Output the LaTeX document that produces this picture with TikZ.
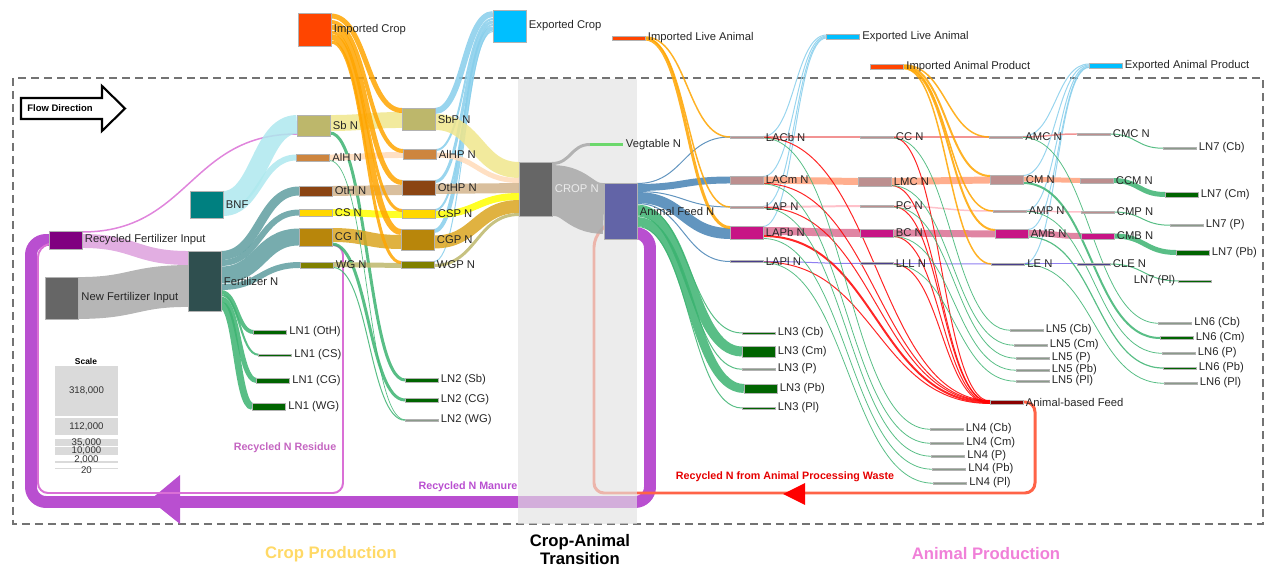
\documentclass[tikz,border=0pt]{standalone}
\usepackage{fontspec}
\setmainfont{Liberation Sans}
\usetikzlibrary{calc}

\pgfdeclarelayer{back}
\pgfdeclarelayer{shade}
\pgfdeclarelayer{links}
\pgfsetlayers{back,shade,links,main}

% node colours
\definecolor{cRecFert}{HTML}{800080}
\definecolor{cNewFert}{HTML}{666666}
\definecolor{cBNF}{HTML}{008080}
\definecolor{cFert}{HTML}{2F4F4F}
\definecolor{cSb}{HTML}{BDB76B}
\definecolor{cAlH}{HTML}{CD853F}
\definecolor{cOtH}{HTML}{8B4513}
\definecolor{cCS}{HTML}{FFD700}
\definecolor{cCG}{HTML}{B8860B}
\definecolor{cWG}{HTML}{808000}
\definecolor{cImp}{HTML}{FF4500}
\definecolor{cExp}{HTML}{00BFFF}
\definecolor{cAFN}{HTML}{6264A7}
\definecolor{cVeg}{HTML}{6CD86C}
\definecolor{cRosy}{HTML}{BC8F8F}
\definecolor{cMVR}{HTML}{C71585}
\definecolor{cDSlate}{HTML}{483D8B}
\definecolor{cLNd}{HTML}{006400}
\definecolor{cLNg}{HTML}{8A9A8A}
\definecolor{cABF}{HTML}{8B0000}
% link colours
\definecolor{plumb}{HTML}{DDA0DD}
\definecolor{grayL}{HTML}{A9A9A9}
\definecolor{cadet}{HTML}{5F9EA0}
\definecolor{seag}{HTML}{3CB371}
\definecolor{paleT}{HTML}{AEE8EE}
\definecolor{khakiL}{HTML}{F0E68C}
\definecolor{peachL}{HTML}{FFDAB9}
\definecolor{tanL}{HTML}{D2B48C}
\definecolor{yellowL}{HTML}{FFFF00}
\definecolor{goldL}{HTML}{DAA520}
\definecolor{dkhakiL}{HTML}{BDB76B}
\definecolor{orangeL}{HTML}{FFA500}
\definecolor{skyL}{HTML}{87CEEB}
\definecolor{steelL}{HTML}{4682B4}
\definecolor{coralL}{HTML}{F08080}
\definecolor{salmonL}{HTML}{FFA07A}
\definecolor{pinkL}{HTML}{FFB6C1}
\definecolor{pvredL}{HTML}{DB7093}
\definecolor{mslateL}{HTML}{7B68EE}
\definecolor{redL}{HTML}{FF0000}
\definecolor{orchidL}{HTML}{DA70D6}
\definecolor{cManure}{HTML}{B94FD0}
\definecolor{cWaste}{HTML}{FF6347}
\definecolor{bandgray}{HTML}{E2E2E2}
\definecolor{scalegray}{HTML}{DADADA}
\definecolor{cCropReg}{HTML}{FFD966}
\definecolor{cAnimReg}{HTML}{F080D8}

\newlength\pxw
\setlength\pxw{0.5669pt}

% sankey link: [colour]{from}{offset}{to}{offset}{width}, offsets in px below the top
\newcommand{\lnk}[6][]{%
  \draw[band,#1,line width=#6*\pxw]
    let \p1=($(#2.north east)+(0,#3)$), \p2=($(#4.north west)+(0,#5)$) in
    (\p1) .. controls ({0.5*\x1+0.5*\x2},\y1) and ({0.5*\x1+0.5*\x2},\y2) .. (\p2);}

\begin{document}
\begin{tikzpicture}[x=0.02cm, y=-0.02cm,
    bar/.style={rectangle, inner sep=0pt, outer sep=0pt, minimum width=0.66cm, minimum height=#1*0.02cm, draw=black!30, line width=0.2pt},
    bar/.default=2,
    lbl/.style={font=\fontsize{6.4}{7.5}\selectfont, text=black!85, inner sep=1.5pt},
    band/.style={line cap=butt, opacity=0.85},
    note/.style={font=\bfseries\fontsize{6.1}{7}\selectfont, inner sep=0pt},
    region/.style={font=\bfseries\fontsize{9.5}{10.4}\selectfont, align=center, inner sep=0pt},
    sc/.style={rectangle, fill=scalegray, minimum width=1.26cm, inner sep=0pt, font=\fontsize{5.5}{6}\selectfont, text=black!80}
]
\useasboundingbox (0,0) rectangle (1265,567);

% fertilizer inputs
\node[bar=18, fill=cRecFert, label={[lbl]right:Recycled Fertilizer Input}] (rfi) at (65.5,240) {};
\node[bar=42, fill=cNewFert, label={[lbl]right:New Fertilizer Input}] (nfi) at (62,298) {};
\node[bar=27, fill=cBNF, label={[lbl]right:BNF}] (bnf) at (206.5,204.5) {};
\node[bar=60, fill=cFert, label={[lbl]right:Fertilizer N}] (fert) at (204.5,281) {};

% crops
\node[bar=21, fill=cSb, label={[lbl]right:Sb N}] (sb) at (313.5,125.5) {};
\node[bar=7, fill=cAlH, label={[lbl]right:AlH N}] (alh) at (313,157.5) {};
\node[bar=10, fill=cOtH, label={[lbl]right:OtH N}] (oth) at (315.5,191) {};
\node[bar=7, fill=cCS, label={[lbl]right:CS N}] (cs) at (315.5,212.5) {};
\node[bar=18, fill=cCG, label={[lbl]right:CG N}] (cg) at (315.5,237) {};
\node[bar=6, fill=cWG, label={[lbl]right:WG N}] (wg) at (316.5,265) {};

% processed crops
\node[bar=22, fill=cSb, label={[lbl]right:SbP N}] (sbp) at (418.5,119) {};
\node[bar=10, fill=cAlH, label={[lbl]right:AlHP N}] (alhp) at (419.5,154) {};
\node[bar=15, fill=cOtH, label={[lbl]right:OtHP N}] (othp) at (418.5,187.5) {};
\node[bar=9, fill=cCS, label={[lbl]right:CSP N}] (csp) at (418.5,213.5) {};
\node[bar=21, fill=cCG, label={[lbl]right:CGP N}] (cgp) at (417.5,239.5) {};
\node[bar=7, fill=cWG, label={[lbl]right:WGP N}] (wgp) at (417.5,264.5) {};

% trade
\node[bar=33, fill=cImp, label={[lbl]right:Imported Crop}] (impcrop) at (314.5,29.5) {};
\node[bar=32, fill=cExp, label={[lbl]right:Exported Crop}] (expcrop) at (509.5,26) {};
\node[bar=4, fill=cImp, label={[lbl]right:Imported Live Animal}] (impla) at (628.5,38) {};
\node[bar=5, fill=cExp, label={[lbl]right:Exported Live Animal}] (expla) at (843,36.5) {};
\node[bar=5, fill=cImp, label={[lbl]right:Imported Animal Product}] (impap) at (887,66.5) {};
\node[bar=5, fill=cExp, label={[lbl]right:Exported Animal Product}] (expap) at (1105.5,65.5) {};

% transition
\node[bar=54, fill=cNewFert, label={[lbl, text=white!92!black]right:CROP N}] (cropn) at (535.5,189) {};
\node[bar=3, fill=cVeg, draw=none, label={[lbl]right:Vegtable N}] (veg) at (606.5,144.5) {};
\node[bar=56, fill=cAFN, label={[lbl]right:Animal Feed N}] (afn) at (620.5,211) {};

% animal column 1
\node[bar, fill=cRosy, label={[lbl]right:LACb N}] (lacb) at (746.5,137) {};
\node[bar=8, fill=cRosy, label={[lbl]right:LACm N}] (lacm) at (746.5,180) {};
\node[bar, fill=cRosy, label={[lbl]right:LAP N}] (lap) at (746.5,207) {};
\node[bar=13, fill=cMVR, label={[lbl]right:LAPb N}] (lapb) at (746.5,232.5) {};
\node[bar, fill=cDSlate, label={[lbl]right:LAPl N}] (lapl) at (746.5,261.5) {};
% animal column 2
\node[bar, fill=cRosy, label={[lbl]right:CC N}] (cc) at (876.5,137) {};
\node[bar=9, fill=cRosy, label={[lbl]right:LMC N}] (lmc) at (874.5,181.5) {};
\node[bar, fill=cRosy, label={[lbl]right:PC N}] (pc) at (876.5,206) {};
\node[bar=8, fill=cMVR, label={[lbl]right:BC N}] (bc) at (876.5,233) {};
\node[bar, fill=cDSlate, label={[lbl]right:LLL N}] (lll) at (876.5,263.5) {};
% animal column 3
\node[bar, fill=cRosy, label={[lbl]right:AMC N}] (amc) at (1006,137) {};
\node[bar=9, fill=cRosy, label={[lbl]right:CM N}] (cm) at (1006.5,179.5) {};
\node[bar, fill=cRosy, label={[lbl]right:AMP N}] (amp) at (1009.5,211) {};
\node[bar=9, fill=cMVR, label={[lbl]right:AMB N}] (amb) at (1011.5,233.5) {};
\node[bar, fill=cDSlate, label={[lbl]right:LE N}] (le) at (1008,264) {};
% animal column 4
\node[bar, fill=cRosy, label={[lbl]right:CMC N}] (cmc) at (1093.5,134) {};
\node[bar=5, fill=cRosy, label={[lbl]right:CCM N}] (ccm) at (1096.5,180.5) {};
\node[bar, fill=cRosy, label={[lbl]right:CMP N}] (cmp) at (1097.5,212) {};
\node[bar=6, fill=cMVR, label={[lbl]right:CMB N}] (cmb) at (1097.5,236) {};
\node[bar, fill=cDSlate, label={[lbl]right:CLE N}] (cle) at (1093.5,264) {};
\node[bar=4, fill=cABF, label={[lbl]right:Animal-based Feed}] (abf) at (1006.5,402) {};

% losses
\node[bar=4, fill=cLNd, label={[lbl]right:LN1 (OtH)}] (ln1oth) at (270,332) {};
\node[bar=2.5, fill=cLNd, label={[lbl]right:LN1 (CS)}] (ln1cs) at (275,355) {};
\node[bar=5, fill=cLNd, label={[lbl]right:LN1 (CG)}] (ln1cg) at (273,380.5) {};
\node[bar=7, fill=cLNd, label={[lbl]right:LN1 (WG)}] (ln1wg) at (269,406.5) {};
\node[bar=4, fill=cLNd, label={[lbl]right:LN2 (Sb)}] (ln2sb) at (421.5,380) {};
\node[bar=4, fill=cLNd, label={[lbl]right:LN2 (CG)}] (ln2cg) at (421.5,400) {};
\node[bar=1.5, fill=cLNg, label={[lbl]right:LN2 (WG)}] (ln2wg) at (421.5,420) {};
\node[bar=2, fill=cLNd, label={[lbl]right:LN3 (Cb)}] (ln3cb) at (758.5,333) {};
\node[bar=11, fill=cLNd, label={[lbl]right:LN3 (Cm)}] (ln3cm) at (758.5,351.5) {};
\node[bar=1.5, fill=cLNg, label={[lbl]right:LN3 (P)}] (ln3p) at (758.5,369) {};
\node[bar=9, fill=cLNd, label={[lbl]right:LN3 (Pb)}] (ln3pb) at (760.5,388.5) {};
\node[bar=2, fill=cLNd, label={[lbl]right:LN3 (Pl)}] (ln3pl) at (758.5,408) {};
\node[bar=1.5, fill=cLNg, label={[lbl]right:LN4 (Cb)}] (ln4cb) at (946.5,429) {};
\node[bar=1.5, fill=cLNg, label={[lbl]right:LN4 (Cm)}] (ln4cm) at (947,443) {};
\node[bar=1.5, fill=cLNg, label={[lbl]right:LN4 (P)}] (ln4p) at (948,456) {};
\node[bar=1.5, fill=cLNg, label={[lbl]right:LN4 (Pb)}] (ln4pb) at (949,469) {};
\node[bar=1.5, fill=cLNg, label={[lbl]right:LN4 (Pl)}] (ln4pl) at (950,483) {};
\node[bar=1.5, fill=cLNg, label={[lbl]right:LN5 (Cb)}] (ln5cb) at (1026.5,330) {};
\node[bar=1.5, fill=cLNg, label={[lbl]right:LN5 (Cm)}] (ln5cm) at (1030.5,345) {};
\node[bar=1.5, fill=cLNg, label={[lbl]right:LN5 (P)}] (ln5p) at (1032.5,358) {};
\node[bar=1.5, fill=cLNg, label={[lbl]right:LN5 (Pb)}] (ln5pb) at (1032.5,370) {};
\node[bar=1.5, fill=cLNg, label={[lbl]right:LN5 (Pl)}] (ln5pl) at (1032.5,381) {};
\node[bar=1.5, fill=cLNg, label={[lbl]right:LN6 (Cb)}] (ln6cb) at (1175,323) {};
\node[bar=3, fill=cLNd, label={[lbl]right:LN6 (Cm)}] (ln6cm) at (1176.5,338) {};
\node[bar=1.5, fill=cLNg, label={[lbl]right:LN6 (P)}] (ln6p) at (1178.5,353) {};
\node[bar=2, fill=cLNd, label={[lbl]right:LN6 (Pb)}] (ln6pb) at (1179.5,368) {};
\node[bar=1.5, fill=cLNg, label={[lbl]right:LN6 (Pl)}] (ln6pl) at (1180.5,383) {};
\node[bar=1.5, fill=cLNg, label={[lbl]right:LN7 (Cb)}] (ln7cb) at (1179.5,148) {};
\node[bar=5, fill=cLNd, label={[lbl]right:LN7 (Cm)}] (ln7cm) at (1181.5,194.5) {};
\node[bar=1.5, fill=cLNg, label={[lbl]right:LN7 (P)}] (ln7p) at (1186.5,225) {};
\node[bar=5, fill=cLNd, label={[lbl]right:LN7 (Pb)}] (ln7pb) at (1192.5,252.5) {};
\node[bar=2, fill=cLNd, label={[lbl]left:LN7 (Pl)}] (ln7pl) at (1194.5,281) {};

% flow direction arrow
\draw[line width=1.2pt, line join=miter] (21,98) -- (102,98) -- (102,86) -- (125,108.5) -- (102,131) -- (102,119) -- (21,119) -- cycle;
\node[font=\bfseries\fontsize{5.4}{6}\selectfont, inner sep=0pt] (flowdir) at (60,108.5) {Flow Direction};

% scale
\node[font=\bfseries\fontsize{4.8}{5}\selectfont, inner sep=0pt] (scaleT) at (86,361) {Scale};
\node[sc, minimum height=50*0.02cm] (s1) at (86.5,391) {318,000};
\node[sc, minimum height=17*0.02cm] (s2) at (86.5,426.5) {112,000};
\node[sc, minimum height=7*0.02cm] (s3) at (86.5,442.5) {35,000};
\node[sc, minimum height=2*0.02cm] (s4) at (86.5,451) {10,000};
\node[sc, minimum height=1.5*0.02cm] (s5) at (86.5,462) {};
\node[font=\fontsize{5.5}{6}\selectfont, text=black!80, inner sep=0pt] (s5t) at (86.5,460) {2,000};
\node[sc, minimum height=1.5*0.02cm] (s6) at (86.5,468.5) {};
\node[font=\fontsize{5.5}{6}\selectfont, text=black!80, inner sep=0pt] (s6t) at (86.5,470) {20};

% notes
\node[note, text=orchidL!90!black] (residue) at (285,448) {Recycled N Residue};
\node[note, text=cManure] (manure) at (468,487) {Recycled N Manure};
\node[note, text=red!90!black] (waste) at (785,477) {Recycled N from Animal Processing Waste};
\node[region, text=cCropReg] (croplab) at (331,554) {Crop Production};
\node[region] (translab) at (580,549.5) {Crop-Animal\\Transition};
\node[region, text=cAnimReg] (animlab) at (986,554) {Animal Production};

\begin{pgfonlayer}{back}
% frame and recycling loops
\draw[dashed, black!55, line width=1.5*\pxw, dash pattern=on 0.16cm off 0.1cm] (13,78) rectangle (1263,524);
\draw[cManure, line width=12*\pxw, rounded corners=0.3cm] (632,233) -- (650,233) -- (650,502) -- (31,502) -- (31,240) -- (rfi.center);
\fill[cManure] (150,500) -- (180,475) -- (180,524) -- cycle;
\draw[orchidL, line width=2*\pxw, rounded corners=0.2cm] (326,245) -- (343,245) -- (343,493) -- (38,493) -- (38,247) -- (rfi.center);
\draw[cWaste, line width=3*\pxw, rounded corners=0.2cm] (abf.center) -- (1035,402) -- (1035,493) -- (594,493) -- (594,237) -- (afn.center);
\fill[red] (783,494) -- (805,483) -- (805,505) -- cycle;
\end{pgfonlayer}

\begin{pgfonlayer}{shade}
\fill[bandgray, opacity=0.65] (518,79) rectangle (637,524);
\end{pgfonlayer}

\begin{pgfonlayer}{links}
% fertilizer
\lnk[plumb]{rfi}{10}{fert}{7}{14}
\lnk[grayL]{nfi}{21}{fert}{35}{42}
\lnk[orchidL]{rfi}{1}{sb}{19}{1.5}
\lnk[cadet]{fert}{4.5}{oth}{5}{9}
\lnk[cadet]{fert}{12}{cs}{3.5}{6}
\lnk[cadet]{fert}{24}{cg}{9}{17}
\lnk[cadet]{fert}{36}{wg}{3}{6}
\lnk[seag]{fert}{41}{ln1oth}{2}{4}
\lnk[seag]{fert}{44}{ln1cs}{1}{2}
\lnk[seag]{fert}{48}{ln1cg}{2.5}{5}
\lnk[seag]{fert}{54}{ln1wg}{3.5}{7}
\lnk[paleT]{bnf}{9.5}{sb}{9.5}{19}
\lnk[paleT]{bnf}{22}{alh}{3.5}{6}
% crops to processing
\lnk[khakiL]{sb}{8}{sbp}{12}{16}
\lnk[seag]{sb}{18}{ln2sb}{2}{3}
\lnk[peachL]{alh}{3.5}{alhp}{6}{6}
\lnk[tanL]{oth}{5}{othp}{10}{10}
\lnk[yellowL]{cs}{3.5}{csp}{5.5}{7}
\lnk[goldL]{cg}{7}{cgp}{13}{14}
\lnk[seag]{cg}{16}{ln2cg}{2}{3}
\lnk[dkhakiL]{wg}{2.5}{wgp}{4.5}{5}
\lnk[seag]{wg}{5.5}{ln2wg}{1}{1}
\lnk[seag]{alh}{6.5}{ln2wg}{0.5}{0.7}
% imported crop
\lnk[orangeL]{impcrop}{3}{sbp}{2.5}{5}
\lnk[orangeL]{impcrop}{9}{alhp}{2}{4}
\lnk[orangeL]{impcrop}{14}{othp}{2.5}{5}
\lnk[orangeL]{impcrop}{19}{csp}{1.5}{3}
\lnk[orangeL]{impcrop}{24}{cgp}{3}{6}
\lnk[orangeL]{impcrop}{29}{wgp}{1.5}{3}
% exported crop
\lnk[skyL]{sbp}{3}{expcrop}{4}{6}
\lnk[skyL]{alhp}{1}{expcrop}{9}{2}
\lnk[skyL]{othp}{1.5}{expcrop}{12}{3}
\lnk[skyL]{csp}{1}{expcrop}{15}{2}
\lnk[skyL]{cgp}{2}{expcrop}{18.5}{4}
\lnk[skyL]{wgp}{0.5}{expcrop}{21.5}{1}
% processing to CROP N
\lnk[khakiL]{sbp}{14}{cropn}{8}{16}
\lnk[peachL]{alhp}{6}{cropn}{18.5}{5}
\lnk[tanL]{othp}{9}{cropn}{26}{10}
\lnk[yellowL]{csp}{5.5}{cropn}{34.5}{7}
\lnk[goldL]{cgp}{13}{cropn}{44.5}{13}
\lnk[dkhakiL]{wgp}{4.5}{cropn}{52.5}{3}
\lnk[grayL]{cropn}{1.5}{veg}{1.5}{3}
\lnk[grayL]{cropn}{28.5}{afn}{25.5}{51}
% animal feed
\lnk[steelL]{afn}{0.5}{lacb}{1}{1}
\lnk[steelL]{afn}{4.5}{lacm}{4}{7}
\lnk[steelL]{afn}{8.5}{lap}{1}{1}
\lnk[steelL]{afn}{14.5}{lapb}{7.5}{11}
\lnk[steelL]{afn}{20.5}{lapl}{1}{1}
\lnk[seag]{afn}{22}{ln3cb}{1}{1}
\lnk[seag]{afn}{27.5}{ln3cm}{5.5}{10}
\lnk[seag]{afn}{33}{ln3p}{1}{1}
\lnk[seag]{afn}{38.5}{ln3pb}{4.5}{9}
\lnk[seag]{afn}{43.5}{ln3pl}{1}{1}
% live animals
\lnk[orangeL]{impla}{1}{lacb}{1}{1.5}
\lnk[orangeL]{impla}{2}{lap}{1}{1.5}
\lnk[orangeL]{impla}{3}{lapb}{1.5}{3}
\lnk[skyL]{lacb}{0.5}{expla}{1}{1}
\lnk[skyL]{lacm}{0.5}{expla}{2}{1}
\lnk[skyL]{lap}{0.5}{expla}{3}{1}
\lnk[skyL]{lapb}{0.5}{expla}{4}{1}
% column 1 on
\lnk[coralL]{lacb}{1}{cc}{1}{1.5}
\lnk[salmonL]{lacm}{4}{lmc}{4.5}{7}
\lnk[pinkL]{lap}{1}{pc}{1}{2}
\lnk[pvredL]{lapb}{5}{bc}{4}{8}
\lnk[mslateL]{lapl}{1}{lll}{1}{1}
\lnk[redL]{lacb}{1.5}{abf}{0.5}{1}
\lnk[redL]{lacm}{7.5}{abf}{1}{1}
\lnk[redL]{lap}{1.5}{abf}{1.5}{1}
\lnk[redL]{lapb}{10}{abf}{2.5}{2}
\lnk[redL]{lapl}{1.5}{abf}{3.5}{1}
\lnk[seag]{lacb}{2}{ln4cb}{1}{0.8}
\lnk[seag]{lacm}{8}{ln4cm}{1}{0.8}
\lnk[seag]{lap}{2}{ln4p}{1}{0.8}
\lnk[seag]{lapb}{12.5}{ln4pb}{1}{0.8}
\lnk[seag]{lapl}{2}{ln4pl}{1}{0.8}
% column 2 on
\lnk[coralL]{cc}{1}{amc}{1}{1.5}
\lnk[salmonL]{lmc}{4.5}{cm}{5}{7}
\lnk[pinkL]{pc}{1}{amp}{1}{1.5}
\lnk[pvredL]{bc}{4}{amb}{5}{7}
\lnk[mslateL]{lll}{1}{le}{1}{1}
\lnk[redL]{cc}{1.5}{abf}{1}{1}
\lnk[redL]{lmc}{8.5}{abf}{2}{1}
\lnk[redL]{pc}{1.5}{abf}{2}{1}
\lnk[redL]{bc}{7.5}{abf}{3}{1}
\lnk[redL]{lll}{1.5}{abf}{3.5}{1}
\lnk[seag]{cc}{2}{ln5cb}{1}{0.8}
\lnk[seag]{lmc}{8.5}{ln5cm}{1}{0.8}
\lnk[seag]{pc}{2}{ln5p}{1}{0.8}
\lnk[seag]{bc}{7.5}{ln5pb}{1}{0.8}
\lnk[seag]{lll}{2}{ln5pl}{1}{0.8}
% imported animal product
\lnk[orangeL]{impap}{1}{amc}{1}{1.5}
\lnk[orangeL]{impap}{2}{cm}{1}{2}
\lnk[orangeL]{impap}{3}{amp}{1}{1.5}
\lnk[orangeL]{impap}{4}{amb}{1}{2}
\lnk[orangeL]{impap}{4.5}{le}{1}{1.5}
\lnk[skyL]{amc}{0.5}{expap}{1}{1}
\lnk[skyL]{cm}{0.5}{expap}{2}{1}
\lnk[skyL]{amp}{0.5}{expap}{3}{1}
\lnk[skyL]{amb}{0.5}{expap}{4}{1}
\lnk[skyL]{le}{0.5}{expap}{4.5}{1}
% column 3 on
\lnk[coralL]{amc}{1}{cmc}{1}{1.5}
\lnk[salmonL]{cm}{4}{ccm}{2.5}{5}
\lnk[pinkL]{amp}{1}{cmp}{1}{1.5}
\lnk[pvredL]{amb}{4}{cmb}{3}{6}
\lnk[mslateL]{le}{1}{cle}{1}{1}
\lnk[seag]{amc}{1.5}{ln6cb}{1}{0.8}
\lnk[seag]{cm}{8}{ln6cm}{1.5}{2}
\lnk[seag]{amp}{1.5}{ln6p}{1}{0.8}
\lnk[seag]{amb}{8}{ln6pb}{1}{1.2}
\lnk[seag]{le}{1.5}{ln6pl}{1}{0.8}
% column 4 on
\lnk[seag]{cmc}{1}{ln7cb}{1}{1}
\lnk[seag]{ccm}{2.5}{ln7cm}{2.5}{5}
\lnk[seag]{cmp}{1}{ln7p}{1}{1}
\lnk[seag]{cmb}{3}{ln7pb}{2.5}{5}
\lnk[seag]{cle}{1}{ln7pl}{1}{1}
\end{pgfonlayer}

\end{tikzpicture}
\end{document}
